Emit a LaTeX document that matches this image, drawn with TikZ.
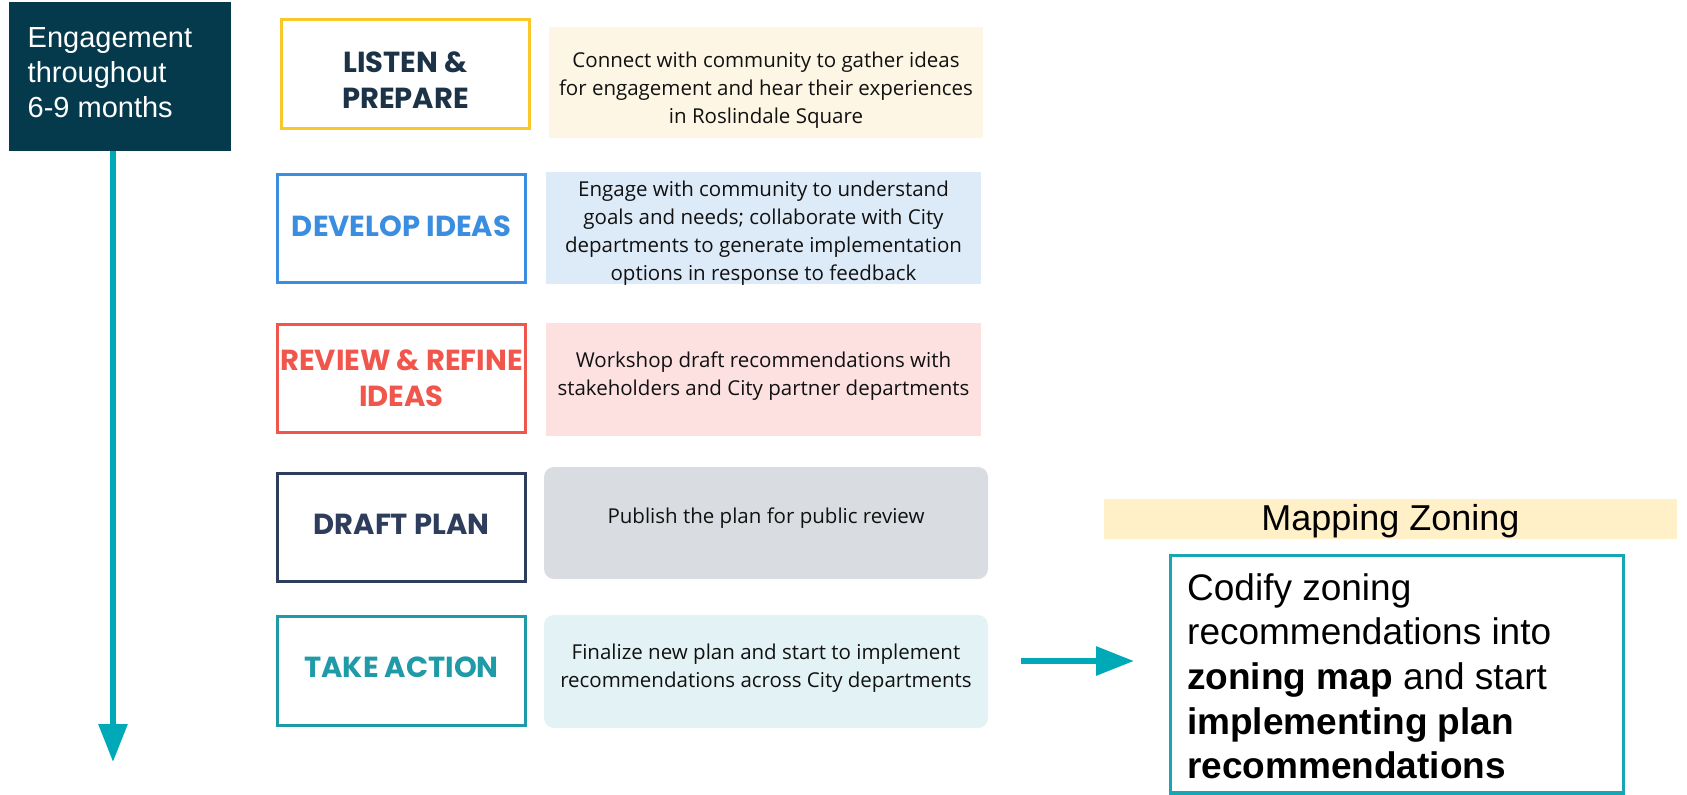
\documentclass[tikz,border=0pt]{standalone}
\usepackage{fontspec}
\setmainfont{Liberation Sans}
\newfontfamily\labelfont{Poppins}
\newfontfamily\descfont{Open Sans}
\usetikzlibrary{arrows.meta}

\definecolor{headbg}{HTML}{053A4D}
\definecolor{flow}{HTML}{00A9B7}
\definecolor{listenc}{HTML}{F9C728}
\definecolor{listentx}{HTML}{1B3247}
\definecolor{developc}{HTML}{3B8EDF}
\definecolor{reviewc}{HTML}{F0564B}
\definecolor{draftc}{HTML}{2D3D5B}
\definecolor{takec}{HTML}{1E9AA8}
\definecolor{listenfill}{HTML}{FEF6E4}
\definecolor{developfill}{HTML}{DDEBF8}
\definecolor{reviewfill}{HTML}{FDE1E1}
\definecolor{draftfill}{HTML}{D9DCE0}
\definecolor{takefill}{HTML}{E3F2F4}
\definecolor{bannerfill}{HTML}{FFF0C8}
\definecolor{codifyc}{HTML}{18A6B4}
\definecolor{desctext}{HTML}{111111}

\tikzset{
  stagebox/.style={draw, line width=3pt, fill=white, minimum width=248pt,
    minimum height=108pt, inner sep=0pt},
  stagelabel/.style={inner sep=0pt, align=center,
    font=\labelfont\bfseries\fontsize{29}{36}\selectfont},
  descbox/.style={draw=none, minimum width=435pt, minimum height=112pt, inner sep=0pt},
  desctxt/.style={inner sep=0pt, align=center, text=desctext,
    font=\descfont\fontsize{20.5}{28}\selectfont},
  flowarrow/.style={draw=flow, line width=6pt,
    -{Triangle[width=28pt,length=38pt]}},
}

\begin{document}
\begin{tikzpicture}[x=1pt,y=-1pt]
\useasboundingbox (0,0) rectangle (1687,795);

% timeline header and arrow
\node[fill=headbg, minimum width=222pt, minimum height=149pt, inner sep=0pt] (head) at (120,76.5) {};
\node[anchor=north west, inner sep=0pt, align=left, text=white,
  font=\fontsize{29}{35}\selectfont] (headtext) at (27.5,27.2)
  {Engagement\\throughout\\6-9 months};
\coordinate (timeend) at (113,762);
\draw[flowarrow] (head.south -| timeend) -- (timeend);

% stages
\node[stagebox, draw=listenc, minimum height=109pt] (listen) at (405.5,74) {};
\node[stagelabel, text=listentx] (listenlabel) at (405.5,80) {LISTEN \&\\PREPARE};
\node[stagebox, draw=developc] (develop) at (401.5,228.5) {};
\node[stagelabel, text=developc] (developlabel) at (401.5,226.5) {DEVELOP IDEAS};
\node[stagebox, draw=reviewc] (review) at (401.5,378.5) {};
\node[stagelabel, text=reviewc] (reviewlabel) at (401.5,378) {REVIEW \& REFINE\\IDEAS};
\node[stagebox, draw=draftc] (draft) at (401.5,527.5) {};
\node[stagelabel, text=draftc] (draftlabel) at (401.5,524.5) {DRAFT PLAN};
\node[stagebox, draw=takec, minimum height=109pt] (take) at (401.5,671) {};
\node[stagelabel, text=takec] (takelabel) at (401.5,667) {TAKE ACTION};

% stage descriptions
\node[descbox, fill=listenfill, minimum width=434pt, minimum height=111pt] (listendesc) at (766,82.5) {};
\node[desctxt] (listentext) at (766,90.5)
  {Connect with community to gather ideas\\for engagement and hear their experiences\\in Roslindale Square};

\node[descbox, fill=developfill] (developdesc) at (763.5,228) {};
\node[desctxt] (developtext) at (763.5,233.3)
  {Engage with community to understand\\goals and needs; collaborate with City\\departments to generate implementation\\options in response to feedback};

\node[descbox, fill=reviewfill, minimum height=113pt] (reviewdesc) at (763.5,379.5) {};
\node[desctxt] (reviewtext) at (763.5,375.7)
  {Workshop draft recommendations with\\stakeholders and City partner departments};

\node[descbox, fill=draftfill, minimum width=444pt, rounded corners=10pt] (draftdesc) at (766,523) {};
\node[desctxt] (drafttext) at (766,517.8) {Publish the plan for public review};

\node[descbox, fill=takefill, minimum width=444pt, minimum height=113pt, rounded corners=10pt] (takedesc) at (766,671.5) {};
\node[desctxt] (taketext) at (766,668.2)
  {Finalize new plan and start to implement\\recommendations across City departments};

% zoning outcome
\node[fill=bannerfill, minimum width=573pt, minimum height=40pt, inner sep=0pt,
  font=\fontsize{36}{40}\selectfont] (banner) at (1390.5,519) {};
\node[inner sep=0pt, font=\fontsize{36}{40}\selectfont] (bannertext) at (1390.5,521.5) {Mapping Zoning};
\draw[draw=codifyc, line width=3.5pt] (1170.5,555.5) rectangle (1623.5,793);
\node[anchor=north west, inner sep=0pt, align=left,
  font=\fontsize{37}{44.7}\selectfont] (codify) at (1187,573)
  {Codify zoning\\recommendations into\\\textbf{zoning map} and start\\\textbf{implementing plan}\\\textbf{recommendations}};

\coordinate (actstart) at (1021,661);
\coordinate (actend) at (1134,661);
\draw[flowarrow] (actstart) -- (actend);
\end{tikzpicture}
\end{document}
